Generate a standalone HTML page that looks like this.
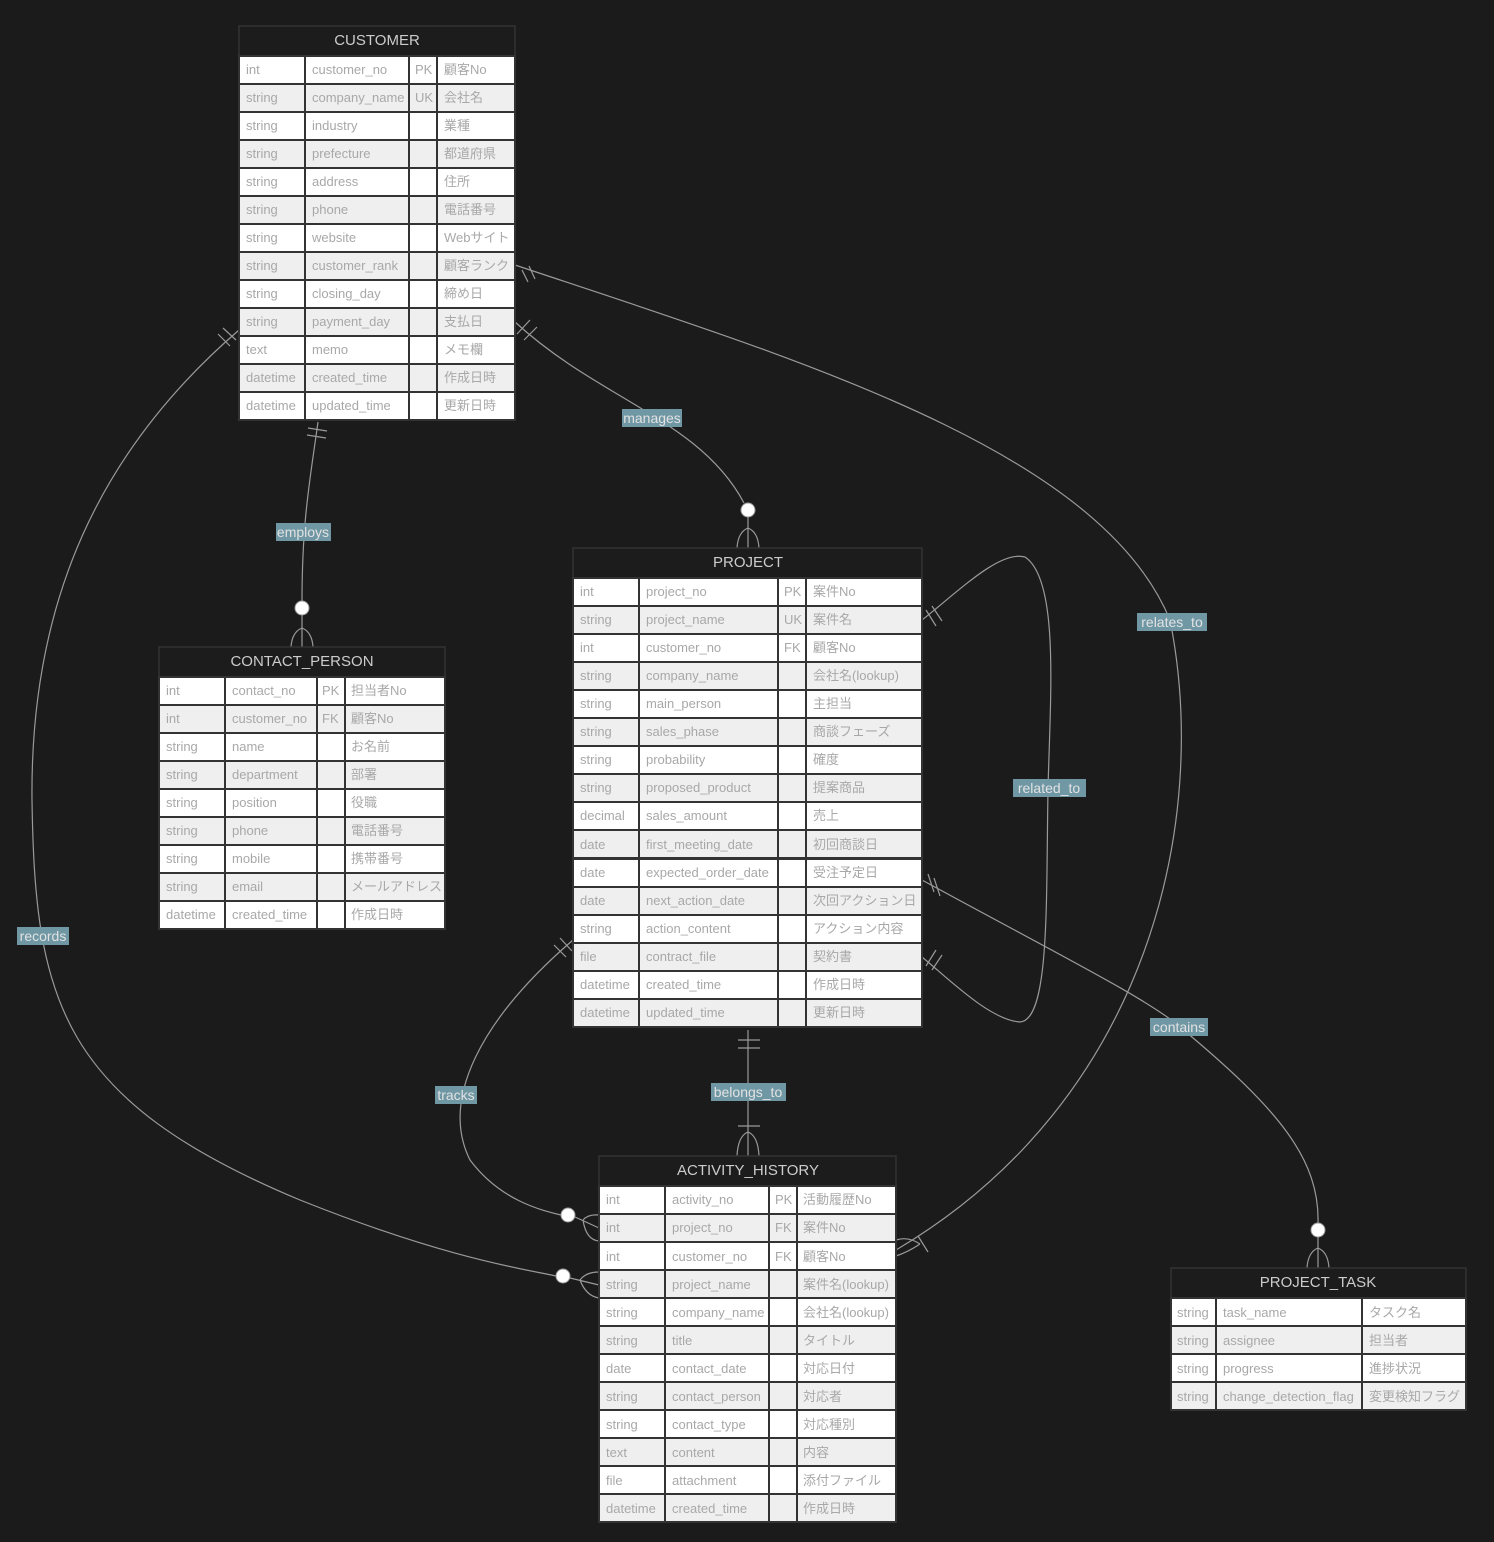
<!DOCTYPE html>
<html><head><meta charset="utf-8"><style>
html,body{margin:0;padding:0;background:#1b1b1b;}
svg{display:block;font-family:"Liberation Sans","Noto Sans CJK JP",sans-serif;}
.w{fill:#fff;stroke:#333;stroke-width:2}
.g{fill:#efefef;stroke:#333;stroke-width:2}
.h{fill:#1c1c1c;stroke:#333;stroke-width:1.5}
.vl{stroke:#333;stroke-width:2}
text.c{font-size:13px;fill:#a8a8a8}
text.hd{font-size:15px;fill:#ccc;text-anchor:middle}
.e{fill:none;stroke:#9a9a9a;stroke-width:1.2}
.lb{fill:#6f97a4}
text.l{font-size:14px;fill:#e2e2e2;text-anchor:middle}
.ci{fill:#fff;stroke:#9a9a9a}
</style></head><body>
<svg width="1494" height="1542" viewBox="0 0 1494 1542" xmlns="http://www.w3.org/2000/svg">
<rect width="1494" height="1542" fill="#1b1b1b"/>

<!-- edges -->
<path class="e" d="M318,422 C310,480 302,520 302,602"/>
<path class="e" d="M308,428 L327,431 M307,435 L326,438"/>
<path class="e" d="M302,614 L302,647 M302,628 Q292,632 291,647 M302,628 Q312,632 313,647"/>
<circle class="ci" cx="302" cy="608" r="7"/>

<path class="e" d="M515,322 C600,400 700,420 744,503"/>
<path class="e" d="M517,334 L530,320 M524,340 L537,327"/>
<path class="e" d="M748,517 L748,548 M748,528 Q738,532 737,548 M748,528 Q758,532 759,548"/>
<circle class="ci" cx="748" cy="510" r="7"/>

<path class="e" d="M515,265 C800,360 1100,450 1170,620 C1210,820 1150,1100 896,1250"/>
<path class="e" d="M522,270 L528,282 M529,266 L535,279"/>
<path class="e" d="M918,1236 L928,1252 M896,1240 Q908,1236 920,1244 M896,1256 Q908,1252 920,1244"/>

<path class="e" d="M239,330 C100,450 30,600 32,800 C35,1000 60,1100 300,1200 C450,1260 530,1270 556,1276"/>
<path class="e" d="M218,334 L230,346 M223,328 L236,340"/>
<path class="e" d="M570,1278 L599,1285 M580,1280 Q586,1272 599,1272 M580,1280 Q586,1296 599,1298"/>
<circle class="ci" cx="563" cy="1276" r="7"/>

<path class="e" d="M573,940 C480,1020 440,1100 470,1160 C500,1200 540,1210 561,1215"/>
<path class="e" d="M554,945 L566,957 M560,938 L572,951"/>
<path class="e" d="M575,1217 L599,1228 M583,1220 Q588,1214 599,1215 M583,1220 Q586,1240 599,1241"/>
<circle class="ci" cx="568" cy="1215" r="7"/>

<path class="e" d="M922,620 C960,590 1000,550 1025,557 C1060,580 1050,700 1048,790 C1046,900 1050,1020 1020,1022 C990,1020 950,980 922,957"/>
<path class="e" d="M926,610 L936,626 M932,606 L942,621 M926,966 L936,950 M932,970 L942,955"/>

<path class="e" d="M922,880 C1050,950 1150,1000 1180,1027 C1280,1110 1320,1160 1318,1224"/>
<path class="e" d="M928,874 L934,892 M934,878 L940,896"/>
<path class="e" d="M1318,1237 L1318,1268 M1318,1248 Q1308,1252 1307,1268 M1318,1248 Q1328,1252 1329,1268"/>
<circle class="ci" cx="1318" cy="1230" r="7"/>

<path class="e" d="M748,1030 L748,1156"/>
<path class="e" d="M738,1040 L760,1040 M738,1048 L760,1048 M738,1126 L760,1126"/>
<path class="e" d="M748,1132 Q738,1136 737,1156 M748,1132 Q758,1136 759,1156"/>

<!-- labels -->
<rect class="lb" x="276" y="523" width="55" height="18"/><text class="l" x="303" y="537">employs</text>
<rect class="lb" x="622" y="409" width="60" height="18"/><text class="l" x="652" y="423">manages</text>
<rect class="lb" x="1137" y="613" width="70" height="18"/><text class="l" x="1172" y="627">relates_to</text>
<rect class="lb" x="1013" y="779" width="73" height="18"/><text class="l" x="1049" y="793">related_to</text>
<rect class="lb" x="17" y="927" width="52" height="18"/><text class="l" x="43" y="941">records</text>
<rect class="lb" x="1150" y="1018" width="58" height="18"/><text class="l" x="1179" y="1032">contains</text>
<rect class="lb" x="435" y="1086" width="42" height="18"/><text class="l" x="456" y="1100">tracks</text>
<rect class="lb" x="711" y="1083" width="75" height="18"/><text class="l" x="748" y="1097">belongs_to</text>

<!-- CUSTOMER -->
<rect class="h" x="239" y="26" width="276" height="30"/><text class="hd" x="377" y="45">CUSTOMER</text>
<g>
<rect class="w" x="239" y="56" width="276" height="28"/><text class="c" x="246" y="74">int</text><text class="c" x="312" y="74">customer_no</text><text class="c" x="415" y="74">PK</text><text class="c" x="444" y="74">顧客No</text>
<rect class="g" x="239" y="84" width="276" height="28"/><text class="c" x="246" y="102">string</text><text class="c" x="312" y="102">company_name</text><text class="c" x="415" y="102">UK</text><text class="c" x="444" y="102">会社名</text>
<rect class="w" x="239" y="112" width="276" height="28"/><text class="c" x="246" y="130">string</text><text class="c" x="312" y="130">industry</text><text class="c" x="444" y="130">業種</text>
<rect class="g" x="239" y="140" width="276" height="28"/><text class="c" x="246" y="158">string</text><text class="c" x="312" y="158">prefecture</text><text class="c" x="444" y="158">都道府県</text>
<rect class="w" x="239" y="168" width="276" height="28"/><text class="c" x="246" y="186">string</text><text class="c" x="312" y="186">address</text><text class="c" x="444" y="186">住所</text>
<rect class="g" x="239" y="196" width="276" height="28"/><text class="c" x="246" y="214">string</text><text class="c" x="312" y="214">phone</text><text class="c" x="444" y="214">電話番号</text>
<rect class="w" x="239" y="224" width="276" height="28"/><text class="c" x="246" y="242">string</text><text class="c" x="312" y="242">website</text><text class="c" x="444" y="242">Webサイト</text>
<rect class="g" x="239" y="252" width="276" height="28"/><text class="c" x="246" y="270">string</text><text class="c" x="312" y="270">customer_rank</text><text class="c" x="444" y="270">顧客ランク</text>
<rect class="w" x="239" y="280" width="276" height="28"/><text class="c" x="246" y="298">string</text><text class="c" x="312" y="298">closing_day</text><text class="c" x="444" y="298">締め日</text>
<rect class="g" x="239" y="308" width="276" height="28"/><text class="c" x="246" y="326">string</text><text class="c" x="312" y="326">payment_day</text><text class="c" x="444" y="326">支払日</text>
<rect class="w" x="239" y="336" width="276" height="28"/><text class="c" x="246" y="354">text</text><text class="c" x="312" y="354">memo</text><text class="c" x="444" y="354">メモ欄</text>
<rect class="g" x="239" y="364" width="276" height="28"/><text class="c" x="246" y="382">datetime</text><text class="c" x="312" y="382">created_time</text><text class="c" x="444" y="382">作成日時</text>
<rect class="w" x="239" y="392" width="276" height="28"/><text class="c" x="246" y="410">datetime</text><text class="c" x="312" y="410">updated_time</text><text class="c" x="444" y="410">更新日時</text>
<path class="vl" d="M305,56V420M409,56V420M437,56V420"/>
</g>

<!-- CONTACT_PERSON -->
<rect class="h" x="159" y="647" width="286" height="30"/><text class="hd" x="302" y="666">CONTACT_PERSON</text>
<g>
<rect class="w" x="159" y="677" width="286" height="28"/><text class="c" x="166" y="695">int</text><text class="c" x="232" y="695">contact_no</text><text class="c" x="322" y="695">PK</text><text class="c" x="351" y="695">担当者No</text>
<rect class="g" x="159" y="705" width="286" height="28"/><text class="c" x="166" y="723">int</text><text class="c" x="232" y="723">customer_no</text><text class="c" x="322" y="723">FK</text><text class="c" x="351" y="723">顧客No</text>
<rect class="w" x="159" y="733" width="286" height="28"/><text class="c" x="166" y="751">string</text><text class="c" x="232" y="751">name</text><text class="c" x="351" y="751">お名前</text>
<rect class="g" x="159" y="761" width="286" height="28"/><text class="c" x="166" y="779">string</text><text class="c" x="232" y="779">department</text><text class="c" x="351" y="779">部署</text>
<rect class="w" x="159" y="789" width="286" height="28"/><text class="c" x="166" y="807">string</text><text class="c" x="232" y="807">position</text><text class="c" x="351" y="807">役職</text>
<rect class="g" x="159" y="817" width="286" height="28"/><text class="c" x="166" y="835">string</text><text class="c" x="232" y="835">phone</text><text class="c" x="351" y="835">電話番号</text>
<rect class="w" x="159" y="845" width="286" height="28"/><text class="c" x="166" y="863">string</text><text class="c" x="232" y="863">mobile</text><text class="c" x="351" y="863">携帯番号</text>
<rect class="g" x="159" y="873" width="286" height="28"/><text class="c" x="166" y="891">string</text><text class="c" x="232" y="891">email</text><text class="c" x="351" y="891">メールアドレス</text>
<rect class="w" x="159" y="901" width="286" height="28"/><text class="c" x="166" y="919">datetime</text><text class="c" x="232" y="919">created_time</text><text class="c" x="351" y="919">作成日時</text>
<path class="vl" d="M225,677V929M317,677V929M345,677V929"/>
</g>

<!-- PROJECT -->
<rect class="h" x="573" y="548" width="349" height="30"/><text class="hd" x="748" y="567">PROJECT</text>
<g>
<rect class="w" x="573" y="578" width="349" height="28"/><text class="c" x="580" y="596">int</text><text class="c" x="646" y="596">project_no</text><text class="c" x="784" y="596">PK</text><text class="c" x="813" y="596">案件No</text>
<rect class="g" x="573" y="606" width="349" height="28"/><text class="c" x="580" y="624">string</text><text class="c" x="646" y="624">project_name</text><text class="c" x="784" y="624">UK</text><text class="c" x="813" y="624">案件名</text>
<rect class="w" x="573" y="634" width="349" height="28"/><text class="c" x="580" y="652">int</text><text class="c" x="646" y="652">customer_no</text><text class="c" x="784" y="652">FK</text><text class="c" x="813" y="652">顧客No</text>
<rect class="g" x="573" y="662" width="349" height="28"/><text class="c" x="580" y="680">string</text><text class="c" x="646" y="680">company_name</text><text class="c" x="813" y="680">会社名(lookup)</text>
<rect class="w" x="573" y="690" width="349" height="28"/><text class="c" x="580" y="708">string</text><text class="c" x="646" y="708">main_person</text><text class="c" x="813" y="708">主担当</text>
<rect class="g" x="573" y="718" width="349" height="28"/><text class="c" x="580" y="736">string</text><text class="c" x="646" y="736">sales_phase</text><text class="c" x="813" y="736">商談フェーズ</text>
<rect class="w" x="573" y="746" width="349" height="28"/><text class="c" x="580" y="764">string</text><text class="c" x="646" y="764">probability</text><text class="c" x="813" y="764">確度</text>
<rect class="g" x="573" y="774" width="349" height="28"/><text class="c" x="580" y="792">string</text><text class="c" x="646" y="792">proposed_product</text><text class="c" x="813" y="792">提案商品</text>
<rect class="w" x="573" y="802" width="349" height="28"/><text class="c" x="580" y="820">decimal</text><text class="c" x="646" y="820">sales_amount</text><text class="c" x="813" y="820">売上</text>
<rect class="g" x="573" y="830" width="349" height="28"/><text class="c" x="580" y="849">date</text><text class="c" x="646" y="849">first_meeting_date</text><text class="c" x="813" y="849">初回商談日</text>
<rect class="w" x="573" y="859" width="349" height="28"/><text class="c" x="580" y="877">date</text><text class="c" x="646" y="877">expected_order_date</text><text class="c" x="813" y="877">受注予定日</text>
<rect class="g" x="573" y="887" width="349" height="28"/><text class="c" x="580" y="905">date</text><text class="c" x="646" y="905">next_action_date</text><text class="c" x="813" y="905">次回アクション日</text>
<rect class="w" x="573" y="915" width="349" height="28"/><text class="c" x="580" y="933">string</text><text class="c" x="646" y="933">action_content</text><text class="c" x="813" y="933">アクション内容</text>
<rect class="g" x="573" y="943" width="349" height="28"/><text class="c" x="580" y="961">file</text><text class="c" x="646" y="961">contract_file</text><text class="c" x="813" y="961">契約書</text>
<rect class="w" x="573" y="971" width="349" height="28"/><text class="c" x="580" y="989">datetime</text><text class="c" x="646" y="989">created_time</text><text class="c" x="813" y="989">作成日時</text>
<rect class="g" x="573" y="999" width="349" height="28"/><text class="c" x="580" y="1017">datetime</text><text class="c" x="646" y="1017">updated_time</text><text class="c" x="813" y="1017">更新日時</text>
<path class="vl" d="M639,578V1027M778,578V1027M806,578V1027"/>
</g>

<!-- ACTIVITY_HISTORY -->
<rect class="h" x="599" y="1156" width="297" height="30"/><text class="hd" x="748" y="1175">ACTIVITY_HISTORY</text>
<g>
<rect class="w" x="599" y="1186" width="297" height="28"/><text class="c" x="606" y="1204">int</text><text class="c" x="672" y="1204">activity_no</text><text class="c" x="775" y="1204">PK</text><text class="c" x="803" y="1204">活動履歴No</text>
<rect class="g" x="599" y="1214" width="297" height="28"/><text class="c" x="606" y="1232">int</text><text class="c" x="672" y="1232">project_no</text><text class="c" x="775" y="1232">FK</text><text class="c" x="803" y="1232">案件No</text>
<rect class="w" x="599" y="1242" width="297" height="28"/><text class="c" x="606" y="1261">int</text><text class="c" x="672" y="1261">customer_no</text><text class="c" x="775" y="1261">FK</text><text class="c" x="803" y="1261">顧客No</text>
<rect class="g" x="599" y="1270" width="297" height="28"/><text class="c" x="606" y="1289">string</text><text class="c" x="672" y="1289">project_name</text><text class="c" x="803" y="1289">案件名(lookup)</text>
<rect class="w" x="599" y="1298" width="297" height="28"/><text class="c" x="606" y="1317">string</text><text class="c" x="672" y="1317">company_name</text><text class="c" x="803" y="1317">会社名(lookup)</text>
<rect class="g" x="599" y="1326" width="297" height="28"/><text class="c" x="606" y="1345">string</text><text class="c" x="672" y="1345">title</text><text class="c" x="803" y="1345">タイトル</text>
<rect class="w" x="599" y="1354" width="297" height="28"/><text class="c" x="606" y="1373">date</text><text class="c" x="672" y="1373">contact_date</text><text class="c" x="803" y="1373">対応日付</text>
<rect class="g" x="599" y="1382" width="297" height="28"/><text class="c" x="606" y="1401">string</text><text class="c" x="672" y="1401">contact_person</text><text class="c" x="803" y="1401">対応者</text>
<rect class="w" x="599" y="1410" width="297" height="28"/><text class="c" x="606" y="1429">string</text><text class="c" x="672" y="1429">contact_type</text><text class="c" x="803" y="1429">対応種別</text>
<rect class="g" x="599" y="1438" width="297" height="28"/><text class="c" x="606" y="1457">text</text><text class="c" x="672" y="1457">content</text><text class="c" x="803" y="1457">内容</text>
<rect class="w" x="599" y="1466" width="297" height="28"/><text class="c" x="606" y="1485">file</text><text class="c" x="672" y="1485">attachment</text><text class="c" x="803" y="1485">添付ファイル</text>
<rect class="g" x="599" y="1494" width="297" height="28"/><text class="c" x="606" y="1513">datetime</text><text class="c" x="672" y="1513">created_time</text><text class="c" x="803" y="1513">作成日時</text>
<path class="vl" d="M665,1186V1522M769,1186V1522M797,1186V1522"/>
</g>

<!-- PROJECT_TASK -->
<rect class="h" x="1171" y="1268" width="295" height="30"/><text class="hd" x="1318" y="1287">PROJECT_TASK</text>
<g>
<rect class="w" x="1171" y="1298" width="295" height="28"/><text class="c" x="1177" y="1317">string</text><text class="c" x="1223" y="1317">task_name</text><text class="c" x="1369" y="1317">タスク名</text>
<rect class="g" x="1171" y="1326" width="295" height="28"/><text class="c" x="1177" y="1345">string</text><text class="c" x="1223" y="1345">assignee</text><text class="c" x="1369" y="1345">担当者</text>
<rect class="w" x="1171" y="1354" width="295" height="28"/><text class="c" x="1177" y="1373">string</text><text class="c" x="1223" y="1373">progress</text><text class="c" x="1369" y="1373">進捗状況</text>
<rect class="g" x="1171" y="1382" width="295" height="28"/><text class="c" x="1177" y="1401">string</text><text class="c" x="1223" y="1401">change_detection_flag</text><text class="c" x="1369" y="1401">変更検知フラグ</text>
<path class="vl" d="M1216,1298V1410M1362,1298V1410"/>
</g>
</svg>
</body></html>
